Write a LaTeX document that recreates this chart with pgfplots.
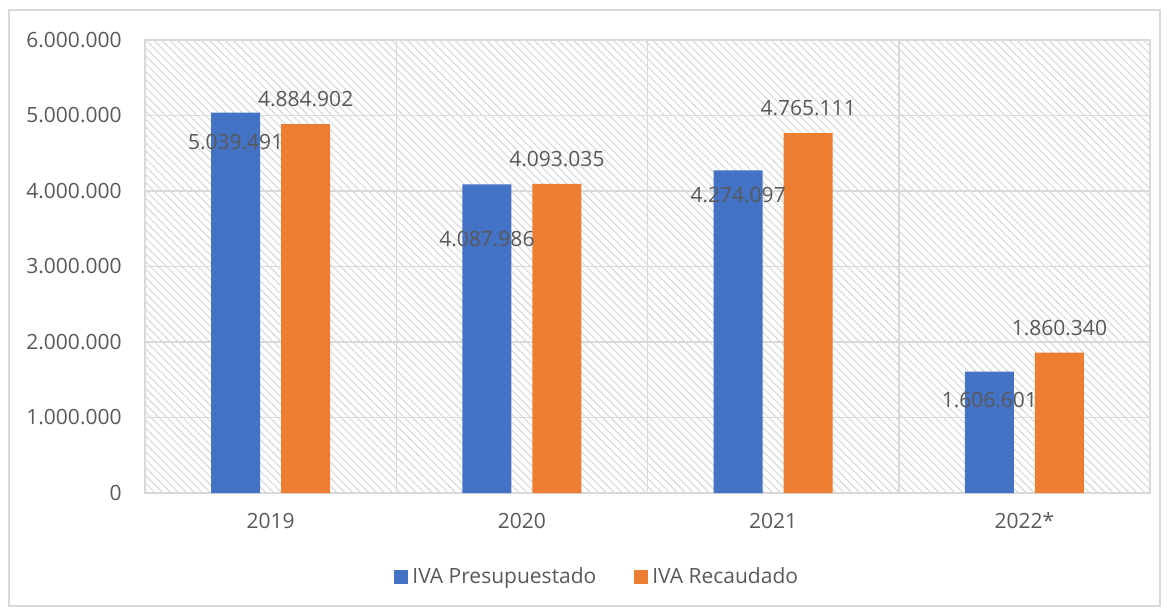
\documentclass[border=0pt]{standalone}
\usepackage{pgfplots}
\pgfplotsset{compat=1.18}
\usepackage{pgfplotstable}
\usepackage{fontspec}
\setmainfont{Open Sans}
\usetikzlibrary{patterns.meta}
\definecolor{cblue}{HTML}{4472C4}
\definecolor{corange}{HTML}{ED7D31}
\definecolor{ctext}{HTML}{595959}
\definecolor{cgrid}{HTML}{D9D9D9}
\definecolor{chatch}{HTML}{D6D6D6}

\pgfplotstableread{
x y dy lab
0 5039491 -14.5 5.039.491
1 4087986 -27.5 4.087.986
2 4274097 -12.5 4.274.097
3 1606601 -14 1.606.601
}\presup
\pgfplotstableread{
x y dy lab
0 4884902 12.5 4.884.902
1 4093035 12.5 4.093.035
2 4765111 12.5 4.765.111
3 1860340 12.5 1.860.340
}\recaud

\newcommand{\chartfont}{\fontsize{10.5pt}{12pt}\selectfont}

\begin{document}
\begin{tikzpicture}
\path[use as bounding box] (-72.5pt,-57pt) rectangle (511pt,246.5pt);
\begin{axis}[
  at={(0,0)}, anchor=south west,
  width=502.5pt, height=226.5pt, scale only axis,
  ybar=10.5pt, bar width=24.5pt,
  xmin=-0.5, xmax=3.5, ymin=0, ymax=6000000,
  xtick={0,1,2,3}, xticklabels={2019,2020,2021,2022*},
  minor xtick={0.5,1.5,2.5}, xminorgrids=true,
  ytick={0,1000000,2000000,3000000,4000000,5000000,6000000},
  yticklabels={0,1.000.000,2.000.000,3.000.000,4.000.000,5.000.000,6.000.000},
  scaled y ticks=false,
  ymajorgrids=true,
  major grid style={cgrid, line width=0.75pt},
  minor grid style={cgrid, line width=0.75pt},
  major tick length=0pt, minor tick length=0pt,
  axis line style={cgrid, line width=0.75pt},
  tick label style={font=\chartfont, text=ctext},
  xticklabel style={anchor=center, yshift=-14pt},
  yticklabel style={anchor=east, inner sep=0pt, xshift=-11.5pt},
  axis background/.style={fill=white, postaction={pattern={Lines[angle=-45,distance=2.8pt,line width=0.5pt]}, pattern color=chatch}},
  legend style={at={(0.451,-0.1854)}, anchor=center, draw=none, fill=none,
    legend columns=2, font=\chartfont, text=ctext,
    /tikz/every even column/.append style={column sep=17pt}},
  legend image code/.code={\fill[#1] (0pt,-3.5pt) rectangle (7pt,3.5pt);},
  nodes near coords,
  point meta=explicit symbolic,
  visualization depends on={\thisrow{dy} \as \dy},
  every node near coord/.append style={anchor=center, yshift=\dy pt, font=\chartfont, text=ctext},
]
\addplot[fill=cblue, draw=none] table[x=x, y=y, meta=lab] {\presup};
\addplot[fill=corange, draw=none] table[x=x, y=y, meta=lab] {\recaud};
\legend{IVA Presupuestado, IVA Recaudado}
\end{axis}
\draw[cgrid, line width=0.75pt] (-68pt,-56.6pt) rectangle (507.5pt,241.5pt);
\end{tikzpicture}
\end{document}
